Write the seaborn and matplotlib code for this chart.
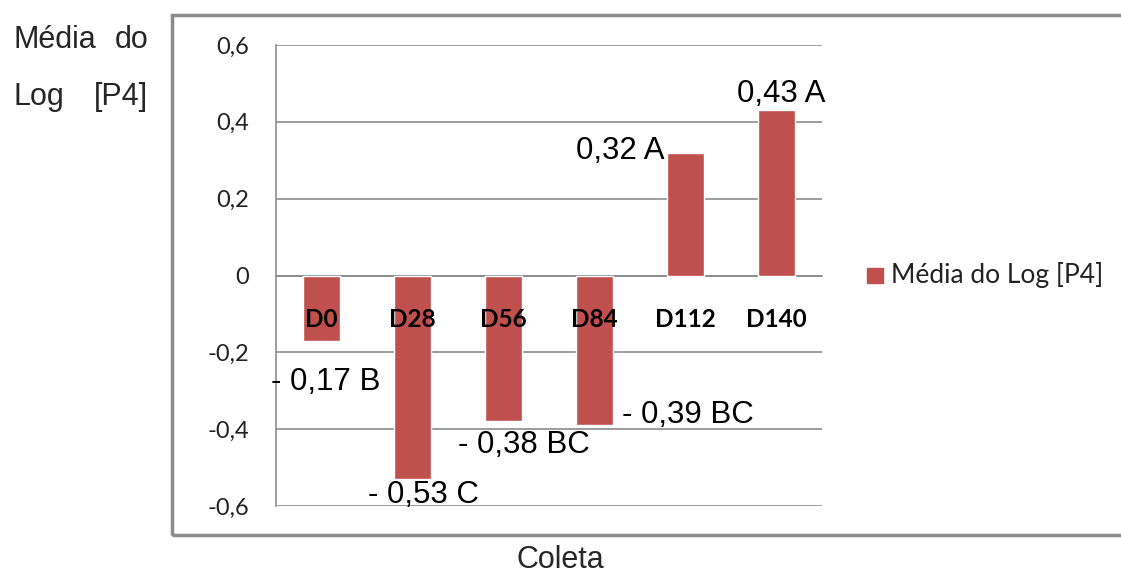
import matplotlib
matplotlib.use("Agg")
import matplotlib.pyplot as plt
import seaborn as sns
import pandas as pd
from matplotlib.patches import Rectangle

categories = ["D0", "D28", "D56", "D84", "D112", "D140"]
values = [-0.17, -0.53, -0.38, -0.39, 0.32, 0.43]
letters = ["B", "C", "BC", "BC", "A", "A"]
yticks = [-0.6, -0.4, -0.2, 0, 0.2, 0.4, 0.6]
ytick_labels = ["-0,6", "-0,4", "-0,2", "0", "0,2", "0,4", "0,6"]
series_name = "Média do Log [P4]"

# label placement (offsets in data units relative to bar centre / value; baseline)
label_dx = [0.049, 0.115, 0.22, 1.027, -0.714, 0.049]
label_dy = [-0.128, -0.062, -0.082, 0.005, -0.017, 0.021]

sns.set_style("white")
plt.rcParams['font.family'] = ['Liberation Sans', 'DejaVu Sans']

W, H = 1121, 576
fig = plt.figure(figsize=(W / 100, H / 100), dpi=100)
ax = fig.add_axes([276 / W, 1 - 506 / H, (822 - 276) / W, (506 - 45) / H])

bar_color = "#C0504D"
grey = "#8c8c8c"
df = pd.DataFrame({"Coleta": categories, "val": values})
sns.barplot(data=df, x="Coleta", y="val", color=bar_color, width=0.4,
            saturation=1, ax=ax, zorder=3, label=series_name, legend=False)

ax.set_xlim(-0.5, len(categories) - 0.5)
ax.set_ylim(-0.6, 0.6)
ax.set_yticks(yticks)
ax.set_yticklabels(ytick_labels, family="Lato", fontsize=17, color="#222222")
ax.yaxis.grid(True, color=grey, linewidth=1.2, zorder=0)
ax.set_axisbelow(True)
ax.tick_params(axis="y", direction="out", length=6.5, width=1.2, color=grey, pad=13)

# x axis at zero with ticks between categories
ax.spines["bottom"].set_position(("data", 0))
ax.spines["bottom"].set_color(grey)
ax.spines["bottom"].set_linewidth(1.2)
ax.spines["left"].set_color(grey)
ax.spines["left"].set_linewidth(1.2)
ax.spines["top"].set_visible(False)
ax.spines["right"].set_visible(False)
ax.set_xticks([i + 0.5 for i in range(len(categories))])
ax.set_xticklabels([])
ax.tick_params(axis="x", direction="out", length=6, width=1.2, color=grey)
ax.set_xlabel("")
ax.set_ylabel("")

for i, c in enumerate(categories):
    ax.text(i, -0.133, c, ha="center", va="baseline", family="Lato",
            fontweight="bold", fontsize=17.5, color="black", zorder=5)

for i, (v, l) in enumerate(zip(values, letters)):
    s = f"{abs(v):.2f}".replace(".", ",")
    txt = (f"- {s} {l}" if v < 0 else f"{s} {l}")
    ax.text(i + label_dx[i], v + label_dy[i], txt, ha="center", va="baseline",
            fontsize=22.5, color="black", zorder=6)

# legend
fig.patches.append(Rectangle((867 / W, 1 - 283 / H), 16 / W, 15 / H,
                             transform=fig.transFigure, color=bar_color))
fig.text(891 / W, 1 - 283 / H, series_name, family="Lato", fontsize=19,
         color="#222222", ha="left", va="baseline")

# outer border
fig.patches.append(Rectangle((172 / W, 1 - 535 / H), (W + 10 - 172) / W, (535 - 15) / H,
                             transform=fig.transFigure, fill=False,
                             edgecolor=grey, linewidth=2.5))

# y label (justified two lines)
fig.text(13 / W, 1 - 48 / H, "Média", fontsize=22, ha="left", va="baseline")
fig.text(148 / W, 1 - 48 / H, "do", fontsize=22, ha="right", va="baseline")
fig.text(13 / W, 1 - 105 / H, "Log", fontsize=22, ha="left", va="baseline")
fig.text(148 / W, 1 - 105 / H, "[P4]", fontsize=22, ha="right", va="baseline")

fig.text(560 / W, 1 - 568 / H, "Coleta", fontsize=22, ha="center", va="baseline")

fig.savefig("out.png", dpi=100)
